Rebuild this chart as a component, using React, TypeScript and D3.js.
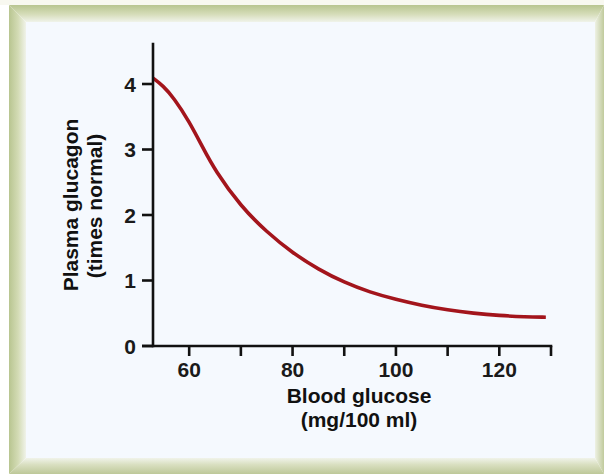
import React from "react";
import * as d3 from "d3";

const glucose = [53, 55, 57, 60, 62.5, 65, 70, 75, 80, 85, 90, 95, 100, 105, 110, 115, 120, 125, 129];
const glucagon = [4.09, 3.97, 3.79, 3.43, 3.05, 2.68, 2.13, 1.74, 1.42, 1.17, 0.97, 0.82, 0.71, 0.62, 0.55, 0.5, 0.465, 0.445, 0.44];
const xTickMarks = [60, 70, 80, 90, 100, 110, 120, 130];
const xTickLabels = [60, 80, 100, 120];
const yTicks = [0, 1, 2, 3, 4];

const W = 604;
const H = 474;

export default function App() {
  const x = d3.scaleLinear().domain([53, 130]).range([153, 551]);
  const y = d3.scaleLinear().domain([0, 4]).range([346, 84]);
  const pts: [number, number][] = glucose.map((g, i) => [g, glucagon[i]]);
  const line = d3
    .line<[number, number]>()
    .x((d) => x(d[0]))
    .y((d) => y(d[1]))
    .curve(d3.curveBasis);

  const axisColor = "#111";
  const font = "'Liberation Sans', Arial, Helvetica, sans-serif";
  const x0 = x(53);
  const y0 = y(0);
  const yTop = y(4.63);

  return (
    <svg
      width={W}
      height={H}
      style={{ position: "absolute", left: 0, top: 0, display: "block" }}
      fontFamily={font}
    >
      <defs>
        <linearGradient id="gl" x1="0" x2="1" y1="0" y2="0">
          <stop offset="0" stopColor="#b8c590" />
          <stop offset="0.55" stopColor="#d4dcb6" />
          <stop offset="1" stopColor="#f0f3ea" />
        </linearGradient>
        <linearGradient id="gt" x1="0" x2="0" y1="0" y2="1">
          <stop offset="0" stopColor="#b8c590" />
          <stop offset="0.55" stopColor="#d6ddba" />
          <stop offset="1" stopColor="#f0f3ea" />
        </linearGradient>
        <linearGradient id="gr" x1="1" x2="0" y1="0" y2="0">
          <stop offset="0" stopColor="#c0ca9c" />
          <stop offset="1" stopColor="#eef1e4" />
        </linearGradient>
        <linearGradient id="gb" x1="0" x2="0" y1="1" y2="0">
          <stop offset="0" stopColor="#bdc898" />
          <stop offset="0.6" stopColor="#dae0c2" />
          <stop offset="1" stopColor="#f0f3ea" />
        </linearGradient>
      </defs>
      <rect x={0} y={0} width={W} height={H} fill="#ffffff" />
      <rect x={0} y={0} width={W} height={5} fill="#f8f8f0" />
      <polygon points="9,5 26,22 26,458 9,474" fill="url(#gl)" />
      <polygon points="9,5 604,5 595,22 26,22" fill="url(#gt)" />
      <polygon points="604,5 604,474 595,458 595,22" fill="url(#gr)" />
      <polygon points="9,474 26,458 595,458 604,474" fill="url(#gb)" />
      <rect x={26} y={22} width={569} height={436} fill="#f5f9fe" />

      {/* curve */}
      <path d={line(pts) || ""} fill="none" stroke="#a3151c" strokeWidth={3.6} />

      {/* y axis */}
      <line x1={x0} x2={x0} y1={yTop} y2={y0 + 1.2} stroke={axisColor} strokeWidth={2.6} />
      {yTicks.map((t) => (
        <g key={"yt" + t}>
          <line x1={x0 - 11} x2={x0} y1={y(t)} y2={y(t)} stroke={axisColor} strokeWidth={2.6} />
          <text
            x={x0 - 17}
            y={y(t)}
            dy="0.36em"
            textAnchor="end"
            fontSize={21}
            fontWeight="bold"
            fill="#1a1a1a"
          >
            {t}
          </text>
        </g>
      ))}

      {/* x axis */}
      <line x1={x0 - 11} x2={x(130) + 1.3} y1={y0} y2={y0} stroke={axisColor} strokeWidth={2.6} />
      {xTickMarks.map((t) => (
        <line key={"xm" + t} x1={x(t)} x2={x(t)} y1={y0} y2={y0 + 10} stroke={axisColor} strokeWidth={2.6} />
      ))}
      {xTickLabels.map((t) => (
        <text key={"xl" + t} x={x(t)} y={377} textAnchor="middle" fontSize={21} fontWeight="bold" fill="#1a1a1a">
          {t}
        </text>
      ))}

      {/* x title */}
      <text x={359} y={403} textAnchor="middle" fontSize={21} fontWeight="bold" fill="#111">
        Blood glucose
      </text>
      <text x={359} y={427} textAnchor="middle" fontSize={21} fontWeight="bold" fill="#111">
        (mg/100 ml)
      </text>

      {/* y title */}
      <text
        transform="translate(78,205) rotate(-90)"
        textAnchor="middle"
        fontSize={21}
        fontWeight="bold"
        fill="#111"
      >
        Plasma glucagon
      </text>
      <text
        transform="translate(102,206) rotate(-90)"
        textAnchor="middle"
        fontSize={21}
        fontWeight="bold"
        fill="#111"
      >
        (times normal)
      </text>
    </svg>
  );
}
